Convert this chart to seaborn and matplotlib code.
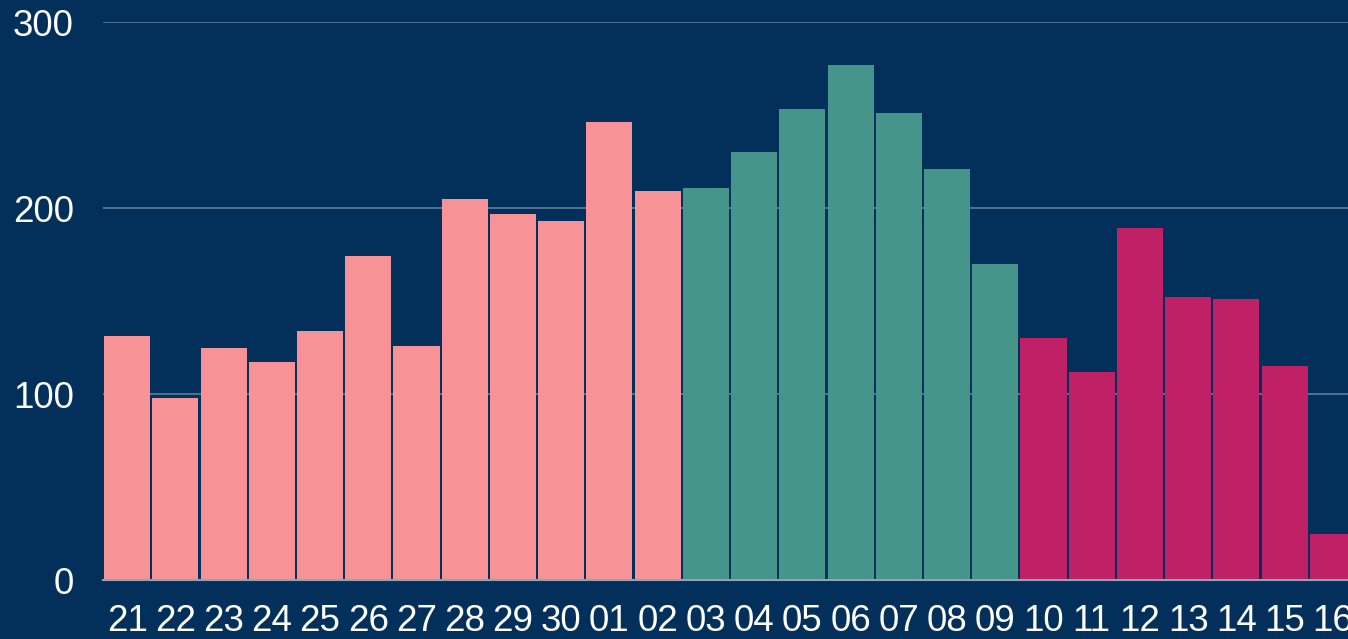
import matplotlib
matplotlib.use("Agg")
import matplotlib.pyplot as plt
import seaborn as sns
import pandas as pd

labels = ["21", "22", "23", "24", "25", "26", "27", "28", "29", "30", "01", "02",
          "03", "04", "05", "06", "07", "08", "09",
          "10", "11", "12", "13", "14", "15", "16"]
values = [131, 98, 125, 117, 134, 174, 126, 205, 197, 193, 246, 209,
          211, 230, 253, 277, 251, 221, 170,
          130, 112, 189, 152, 151, 115, 25]
groups = ["a"] * 12 + ["b"] * 7 + ["c"] * 7
palette = {"a": "#f79397", "b": "#46958b", "c": "#c02065"}
yticks = [0, 100, 200, 300]

bg = "#03305a"
sns.set_theme(style="dark")
plt.rcParams["font.family"] = ["Liberation Sans", "DejaVu Sans"]

df = pd.DataFrame({"label": labels, "value": values, "group": groups})

fig = plt.figure(figsize=(13.48, 6.39), dpi=100, facecolor=bg)
ax = fig.add_axes([103 / 1348, 59 / 639, 1254 / 1348, 558 / 639])
ax.set_facecolor(bg)

sns.barplot(data=df, x="label", y="value", hue="group", palette=palette,
            dodge=False, width=0.955, legend=False, ax=ax, saturation=1,
            order=labels, linewidth=0)

for p in ax.patches:
    p.set_linewidth(0)

ax.set_ylim(0, 300)
ax.set_xlim(-0.5, len(labels) - 0.5)
ax.set_yticks(yticks)
ax.set_yticklabels([str(t) for t in yticks])
ax.yaxis.grid(True, color="#5f7d99", linewidth=1.2)
ax.xaxis.grid(False)
ax.set_axisbelow(True)
for s in ["top", "right", "left"]:
    ax.spines[s].set_visible(False)
ax.spines["bottom"].set_color("#8fa4b8")
ax.spines["bottom"].set_linewidth(1.5)
ax.spines["bottom"].set_zorder(5)
ax.tick_params(axis="y", length=0, pad=21, labelsize=26.5, labelcolor="white")
ax.tick_params(axis="x", length=0, pad=17, labelsize=26.5, labelcolor="white")
ax.set_xlabel("")
ax.set_ylabel("")

fig.savefig("out.png", dpi=100, facecolor=bg)
